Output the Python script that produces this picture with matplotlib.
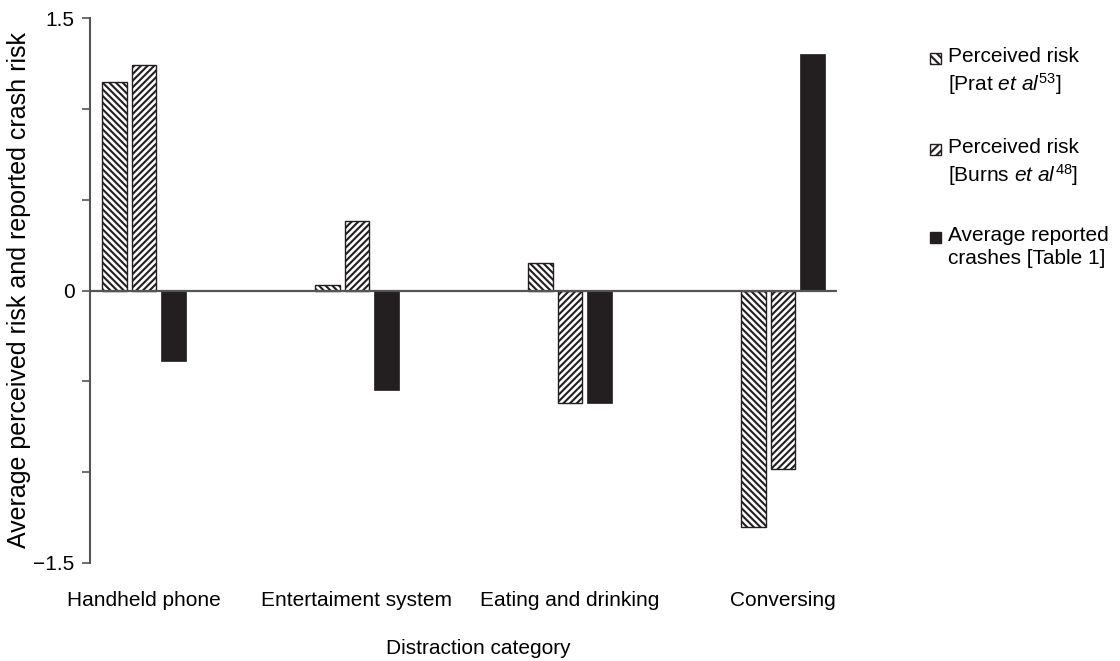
import numpy as np
import matplotlib
matplotlib.use('Agg')
import matplotlib.pyplot as plt
from matplotlib.patches import Rectangle

# Data
categories = ['Handheld phone', 'Entertaiment system', 'Eating and drinking', 'Conversing']
prat_risk = [1.15, 0.03, 0.15, -1.30]
burns_risk = [1.24, 0.38, -0.62, -0.98]
reported_crashes = [-0.39, -0.55, -0.62, 1.30]

legend_labels = [
    'Perceived risk\n[Prat $\\mathit{et\\ al}^{53}$]',
    'Perceived risk\n[Burns $\\mathit{et\\ al}^{48}$]',
    'Average reported\ncrashes [Table 1]',
]

plt.rcParams.update({
    'font.family': ['Liberation Sans', 'DejaVu Sans'],
    'font.size': 15,
    'mathtext.fontset': 'custom',
    'mathtext.rm': 'Liberation Sans',
    'mathtext.it': 'Liberation Sans:italic',
    'hatch.linewidth': 1.5,
    'hatch.color': '#2a2a2a',
})

DARK = '#231f20'
GREY = '#555555'

W, H = 1120, 661
fig = plt.figure(figsize=(W / 100, H / 100), dpi=100)
ax = fig.add_axes([90 / W, 1 - 563 / H, (837 - 90) / W, (563 - 18) / H])

x = np.arange(len(categories))
pitch = 0.1385
width = 0.117

ax.bar(x - pitch, prat_risk, width, facecolor='white', edgecolor=DARK,
       linewidth=1.0, hatch='\\\\\\\\\\')
ax.bar(x, burns_risk, width, facecolor='white', edgecolor=DARK,
       linewidth=1.0, hatch='/////')
ax.bar(x + pitch, reported_crashes, width, color=DARK, edgecolor=DARK, linewidth=0.5)

ax.axhline(0, color=GREY, linewidth=1.6, zorder=3)

ax.set_xlim(-0.2535, 3.2535)
ax.set_ylim(-1.5, 1.5)
ax.set_yticks([-1.5, -1.0, -0.5, 0, 0.5, 1.0, 1.5])
ax.set_yticklabels(['\u22121.5', '', '', '0', '', '', '1.5'])
ax.set_xticks(x)
ax.set_xticklabels(categories)
ax.tick_params(axis='x', length=0, pad=20)
ax.tick_params(axis='y', direction='out', length=6, width=1.2, color=GREY, pad=5)

for side in ['top', 'right', 'bottom']:
    ax.spines[side].set_visible(False)
ax.spines['left'].set_color(GREY)
ax.spines['left'].set_linewidth(1.5)

ax.set_ylabel('Average perceived risk and reported crash risk', fontsize=18)
ax.yaxis.set_label_coords((19 - 90) / (837 - 90), 0.5)
ax.yaxis.label.set_verticalalignment('center')

fig.text(478 / W, 1 - 648 / H, 'Distraction category', ha='center', va='center')

# Legend drawn by hand so the marker sits on the first line
styles = [
    dict(facecolor='white', edgecolor=DARK, hatch='\\\\\\\\'),
    dict(facecolor='white', edgecolor=DARK, hatch='////'),
    dict(facecolor=DARK, edgecolor=DARK),
]
entry_y = [59, 150, 238]
for ly, label, st in zip(entry_y, legend_labels, styles):
    fig.add_artist(Rectangle((930 / W, 1 - (ly + 5) / H), 11 / W, 11 / H,
                             transform=fig.transFigure, linewidth=1.0, **st))
    fig.text(948 / W, 1 - (ly - 12) / H, label, ha='left', va='top',
             linespacing=1.25)

fig.savefig('out.png', dpi=100, facecolor='white')
